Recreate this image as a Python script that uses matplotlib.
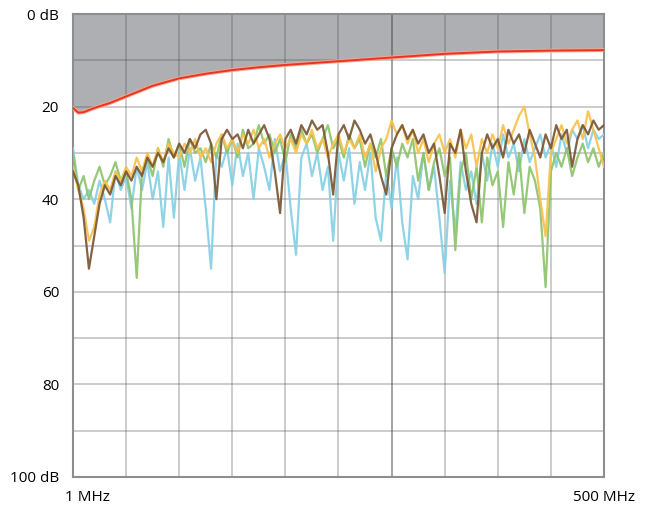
import matplotlib
matplotlib.use("Agg")
import matplotlib.pyplot as plt
import numpy as np

plt.rcParams["font.family"] = ["Open Sans", "DejaVu Sans"]

# x positions in MHz, 101 samples from 1 MHz to 500 MHz
freq_mhz = np.linspace(1, 500, 101)

trace_blue = [29, 37, 40, 38, 41, 36, 40, 45, 34, 38,
              35, 42, 33, 38, 32, 40, 34, 46, 31, 44,
              30, 38, 29, 36, 31, 42, 55, 30, 33, 29,
              37, 28, 35, 30, 40, 29, 33, 38, 27, 34,
              30, 42, 52, 31, 28, 35, 30, 38, 33, 49,
              30, 36, 29, 41, 32, 38, 30, 44, 49, 34,
              42, 31, 45, 53, 35, 40, 30, 38, 33, 44,
              56, 36, 47, 32, 38, 34, 41, 30, 36, 28,
              33, 26, 31, 28, 34, 27, 32, 29, 26, 31,
              28, 33, 26, 30, 25, 27, 24, 29, 25, 27, 26]

trace_green = [30, 38, 35, 40, 36, 33, 37, 35, 32, 36,
               34, 40, 57, 34, 31, 35, 29, 33, 27, 31,
               28, 33, 27, 30, 29, 32, 28, 31, 26, 30,
               27, 31, 25, 29, 28, 24, 28, 26, 30, 27,
               32, 26, 29, 25, 28, 26, 30, 27, 24, 29,
               27, 31, 26, 29, 27, 33, 28, 31, 27, 35,
               29, 33, 28, 31, 27, 36, 30, 38, 32, 29,
               35, 31, 51, 34, 30, 40, 33, 45, 31, 37,
               34, 46, 32, 39, 30, 43, 33, 36, 42, 59,
               34, 30, 33, 29, 35, 31, 28, 32, 29, 33, 30]

trace_orange = [33, 38, 42, 49, 46, 39, 36, 38, 34, 36,
                33, 35, 31, 34, 30, 33, 29, 32, 28, 30,
                31, 28, 30, 27, 31, 29, 32, 28, 26, 29,
                27, 30, 26, 28, 25, 29, 27, 31, 28, 26,
                29, 27, 30, 26, 28, 25, 29, 27, 31, 28,
                26, 30, 27, 29, 26, 31, 28, 34, 29, 27,
                23, 26, 24, 28, 25, 30, 27, 32, 28, 26,
                30, 27, 31, 25, 29, 26, 33, 27, 30, 26,
                29, 24, 28, 25, 22, 20, 26, 31, 40, 48,
                30, 27, 24, 28, 25, 23, 27, 21, 25, 29, 33]

trace_brown = [34, 37, 44, 55, 48, 41, 37, 39, 35, 37,
               34, 36, 33, 35, 31, 33, 30, 32, 29, 31,
               28, 30, 27, 29, 26, 25, 28, 40, 27, 25,
               27, 26, 29, 25, 28, 26, 24, 27, 34, 43,
               27, 25, 28, 24, 26, 23, 25, 24, 30, 39,
               26, 24, 27, 23, 25, 28, 26, 30, 35, 39,
               29, 26, 24, 27, 25, 28, 26, 30, 28, 35,
               43, 28, 30, 25, 34, 41, 45, 30, 26, 29,
               27, 31, 25, 28, 26, 30, 25, 28, 31, 26,
               29, 24, 27, 25, 33, 27, 24, 26, 23, 25, 24]

# limit line: position as fraction of the span, value in dB
limit_pos = [0, 0.01, 0.02, 0.04, 0.07, 0.10, 0.15, 0.20, 0.25, 0.30,
             0.35, 0.40, 0.45, 0.50, 0.60, 0.70, 0.80, 0.90, 1.0]
limit_db = [20.3, 21.3, 21.2, 20.3, 19.2, 17.8, 15.5, 13.9, 12.9, 12.1,
            11.5, 11.0, 10.6, 10.2, 9.4, 8.6, 8.1, 7.9, 7.8]

y_ticks = [0, 20, 40, 60, 80, 100]
y_labels = ["0 dB", "20", "40", "60", "80", "100 dB"]

traces = [(trace_blue, "#86d0e4"), (trace_green, "#8dc46b"),
          (trace_orange, "#f8c24a"), (trace_brown, "#7a5634")]

fig = plt.figure(figsize=(6.57, 5.08), dpi=100)
ax = fig.add_axes([73 / 657, 31 / 508, 531 / 657, 463 / 508])

limit_mhz = 1 + np.array(limit_pos) * 499
ax.fill_between(limit_mhz, 0, limit_db, color="#aeafb3", lw=0, zorder=1)

for values, color in traces:
    assert len(values) == len(freq_mhz)
    ax.plot(freq_mhz, values, color=color, lw=1.6, alpha=0.92, zorder=3)

ax.plot(limit_mhz, limit_db, color="#f7a888", lw=2.8, zorder=4)
ax.plot(limit_mhz, limit_db, color="#e8332a", lw=1.4, zorder=5)

grid_x = np.linspace(1, 500, 11)
for i, gx in enumerate(grid_x[1:-1], start=1):
    dark = i == 6
    ax.axvline(gx, color="#4a4a4c", alpha=0.55 if dark else 0.3, lw=1.3, zorder=2)
for gy in range(10, 100, 10):
    ax.axhline(gy, color="#4a4a4c", alpha=0.3, lw=1.3, zorder=2)

ax.set_xlim(1, 500)
ax.set_ylim(100, 0)
ax.set_yticks(y_ticks)
ax.set_yticklabels(y_labels, fontsize=11)
ax.set_xticks([])
ax.tick_params(axis="y", length=0, pad=10)
for s in ax.spines.values():
    s.set_color("#8e8e90")
    s.set_linewidth(1.5)

ax.text(-0.015, -0.045, "1 MHz", transform=ax.transAxes, ha="left", va="center", fontsize=11)
ax.text(1.0, -0.045, "500 MHz", transform=ax.transAxes, ha="center", va="center", fontsize=11)

fig.savefig("out.png", dpi=100)
